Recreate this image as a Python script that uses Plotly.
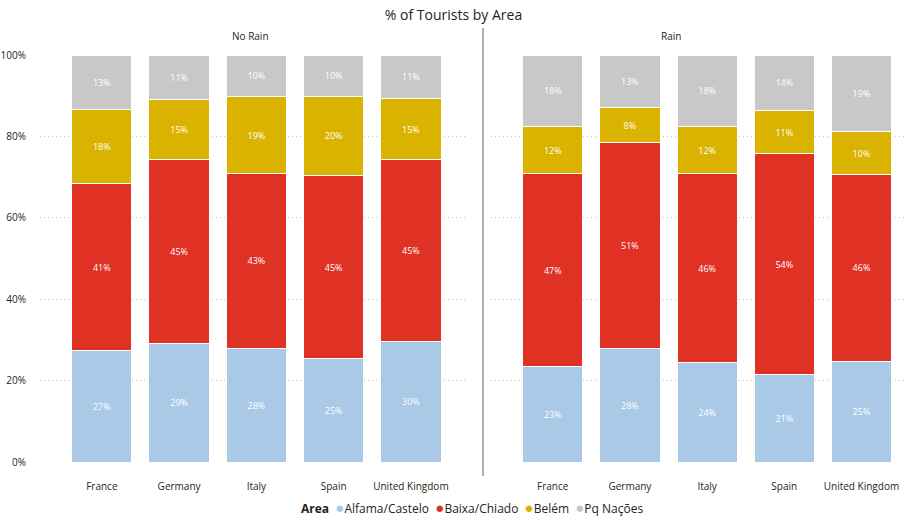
import plotly.graph_objects as go
from plotly.subplots import make_subplots

countries = ["France", "Germany", "Italy", "Spain", "United Kingdom"]
areas = ["Alfama/Castelo", "Baixa/Chiado", "Belém", "Pq Nações"]
colors = ["#A9C9E7", "#DF3124", "#D9B300", "#C8C8C8"]

# share of tourists (%) per area, stacked bottom to top
no_rain = {
    "Alfama/Castelo": [27.3, 29.1, 28.0, 25.4, 29.6],
    "Baixa/Chiado":   [41.2, 45.2, 42.8, 44.9, 44.7],
    "Belém":          [18.2, 14.7, 18.9, 19.6, 14.9],
    "Pq Nações":      [13.3, 11.0, 10.3, 10.1, 10.8],
}
rain = {
    "Alfama/Castelo": [23.4, 27.8, 24.4, 21.4, 24.8],
    "Baixa/Chiado":   [47.4, 50.8, 46.4, 54.3, 45.9],
    "Belém":          [11.6, 8.4, 11.6, 10.6, 10.4],
    "Pq Nações":      [17.6, 13.0, 17.6, 13.7, 18.9],
}
panels = ["No Rain", "Rain"]
y_ticks = [0, 20, 40, 60, 80, 100]

FONT = "Open Sans, Segoe UI, sans-serif"
TXT = "#252423"
W, H = 907, 517
PLOT_H = 462 - 55

fig = make_subplots(rows=1, cols=2, horizontal_spacing=0)

for col, data in enumerate([no_rain, rain], start=1):
    for area, color in zip(areas, colors):
        fig.add_trace(
            go.Bar(
                x=countries,
                y=data[area],
                name=area,
                marker=dict(color=color, line=dict(color="white", width=1)),
                width=0.78,
                texttemplate="%{y:.0f}%",
                textposition="inside",
                insidetextanchor="middle",
                textfont=dict(color="white", size=9, family=FONT),
                showlegend=False,
                hoverinfo="skip",
            ),
            row=1, col=col,
        )

left_dom = [40 / W, 465 / W]
right_dom = [491 / W, 1.0]

fig.update_xaxes(
    showgrid=False, showline=False, zeroline=False, ticks="", automargin=False,
    tickfont=dict(size=10, color=TXT, family=FONT), ticklabelstandoff=17,
)
fig.update_xaxes(domain=left_dom, range=[-0.80, 4.70], row=1, col=1)
fig.update_xaxes(domain=right_dom, range=[-0.80, 4.59], row=1, col=2)

fig.update_yaxes(
    range=[0, 100], tickvals=y_ticks, ticktext=[f"{v}%" for v in y_ticks],
    showgrid=True, gridcolor="#C8C6C4", griddash="1px,3px", gridwidth=1,
    zeroline=False, showline=False, ticks="", automargin=False,
    tickfont=dict(size=10, color=TXT, family=FONT),
)
fig.update_yaxes(ticklabelstandoff=13, row=1, col=1)
fig.update_yaxes(showticklabels=False, row=1, col=2)

# legend line with round markers
legend_text = "<b>Area</b>  " + "  ".join(
    f"<span style='color:{c};font-size:15px'>●</span>{a}" for a, c in zip(areas, colors)
)

fig.update_layout(
    width=W, height=H,
    margin=dict(l=0, r=0, t=55, b=55, autoexpand=False),
    plot_bgcolor="white", paper_bgcolor="white",
    barmode="stack",
    showlegend=False,
    font=dict(family=FONT, color=TXT),
    title=dict(text="% of Tourists by Area", x=0.5, xanchor="center",
               y=1 - 15 / H, yanchor="middle",
               font=dict(size=14, color=TXT, family=FONT)),
    annotations=[
        dict(text=panels[0], x=230 / W, y=1 + 19 / PLOT_H,
             xref="paper", yref="paper", showarrow=False, yanchor="middle",
             font=dict(size=10, color=TXT, family=FONT)),
        dict(text=panels[1], x=683 / W, y=1 + 19 / PLOT_H,
             xref="paper", yref="paper", showarrow=False, yanchor="middle",
             font=dict(size=10, color=TXT, family=FONT)),
        dict(text=legend_text, x=472 / W, y=-(507 - 462) / PLOT_H,
             xref="paper", yref="paper", showarrow=False,
             xanchor="center", yanchor="middle",
             font=dict(size=12, color=TXT, family=FONT)),
    ],
    shapes=[
        dict(type="line", xref="paper", yref="paper",
             x0=483 / W, x1=483 / W, y0=-(476 - 462) / PLOT_H, y1=1 + 27 / PLOT_H,
             line=dict(color="#605E5C", width=1)),
    ],
)

fig.write_html("out.html")
